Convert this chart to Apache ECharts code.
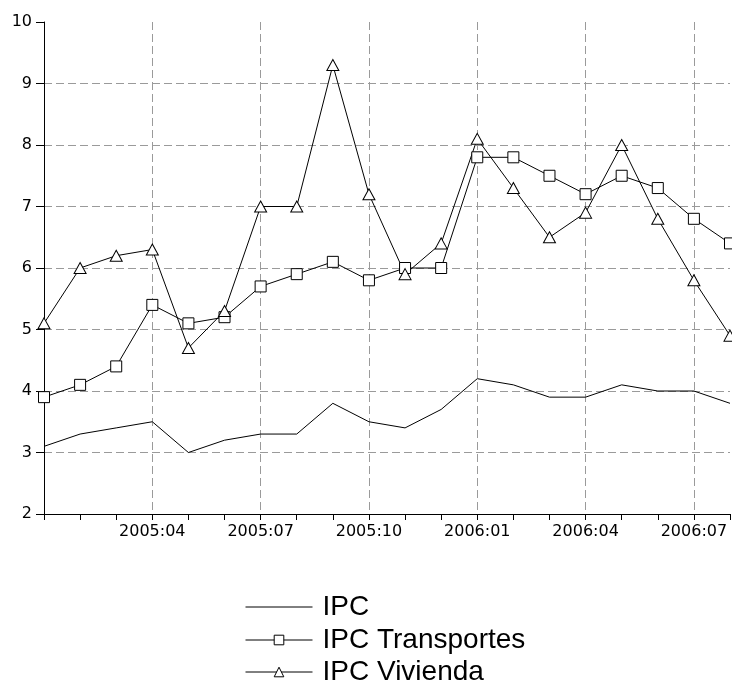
<!DOCTYPE html>
<html><head><meta charset="utf-8">
<script src="https://cdn.jsdelivr.net/npm/echarts@6/dist/echarts.min.js"></script>
<style>html,body{margin:0;padding:0;background:#fff}#c{width:732px;height:682px}</style>
</head><body><div id="c"></div>
<script>
const months = ["2005:01","2005:02","2005:03","2005:04","2005:05","2005:06","2005:07","2005:08","2005:09","2005:10","2005:11","2005:12","2006:01","2006:02","2006:03","2006:04","2006:05","2006:06","2006:07","2006:08"];
const ipc = [3.1,3.3,3.4,3.5,3.0,3.2,3.3,3.3,3.8,3.5,3.4,3.7,4.2,4.1,3.9,3.9,4.1,4.0,4.0,3.8];
const ipcTransportes = [3.9,4.1,4.4,5.4,5.1,5.2,5.7,5.9,6.1,5.8,6.0,6.0,7.8,7.8,7.5,7.2,7.5,7.3,6.8,6.4];
const ipcVivienda = [5.1,6.0,6.2,6.3,4.7,5.3,7.0,7.0,9.3,7.2,5.9,6.4,8.1,7.3,6.5,6.9,8.0,6.8,5.8,4.9];
const seriesNames = ["IPC","IPC Transportes","IPC Vivienda"];

const font = "'Liberation Sans', Arial, sans-serif";
const tickFont = "'DejaVu Sans', sans-serif";
const grid = '#9a9a9a';
const chart = echarts.init(document.getElementById('c'));
const mk = {color:'#fff', borderColor:'#000', borderWidth:1};
const legendTops = [593, 626, 658];
const legends = seriesNames.map((n, i) => ({
  orient:'horizontal', left:245, top:legendTops[i], padding:0, itemWidth:67, itemHeight:12,
  lineStyle:{width:1, color:'#000'}, itemStyle:{borderWidth:1},
  textStyle:{fontFamily:font, fontSize:28, lineHeight:27, color:'#000', padding:[0,0,0,5]},
  data:[i === 0 ? {name:n, itemStyle:{opacity:0}} : n]
}));
chart.setOption({
  animation:false,
  backgroundColor:'#fff',
  grid:{left:44, top:22, right:2, bottom:168, containLabel:false},
  legend:legends,
  xAxis:{
    type:'category', data:months, boundaryGap:false,
    axisLine:{lineStyle:{color:'#000', width:1}},
    axisTick:{show:true, interval:0, length:6, lineStyle:{color:'#000'}},
    axisLabel:{interval:(i)=> i%3===0 && i>0, fontFamily:tickFont, fontSize:16, color:'#000', margin:10},
    splitLine:{show:true, interval:(i)=> i%3===0 && i>0, lineStyle:{color:grid, type:[8,4], width:1}}
  },
  yAxis:{
    type:'value', min:2, max:10, interval:1,
    axisLine:{show:true, lineStyle:{color:'#000', width:1}},
    axisTick:{show:true, length:8, lineStyle:{color:'#000'}},
    axisLabel:{fontFamily:tickFont, fontSize:16, color:'#000', margin:12},
    splitLine:{show:true, lineStyle:{color:['rgba(0,0,0,0)',grid,grid,grid,grid,grid,grid,grid,'rgba(0,0,0,0)'], type:[8,4], width:1}}
  },
  series:[
    {name:seriesNames[0], type:'line', data:ipc, symbol:'none', lineStyle:{color:'#000', width:1}, itemStyle:{color:'#000'}},
    {name:seriesNames[1], type:'line', data:ipcTransportes, symbol:'rect', symbolSize:11, showAllSymbol:true, lineStyle:{color:'#000', width:1}, itemStyle:mk},
    {name:seriesNames[2], type:'line', data:ipcVivienda, symbol:'triangle', symbolSize:[12,11], showAllSymbol:true, lineStyle:{color:'#000', width:1}, itemStyle:mk}
  ]
});
</script></body></html>
